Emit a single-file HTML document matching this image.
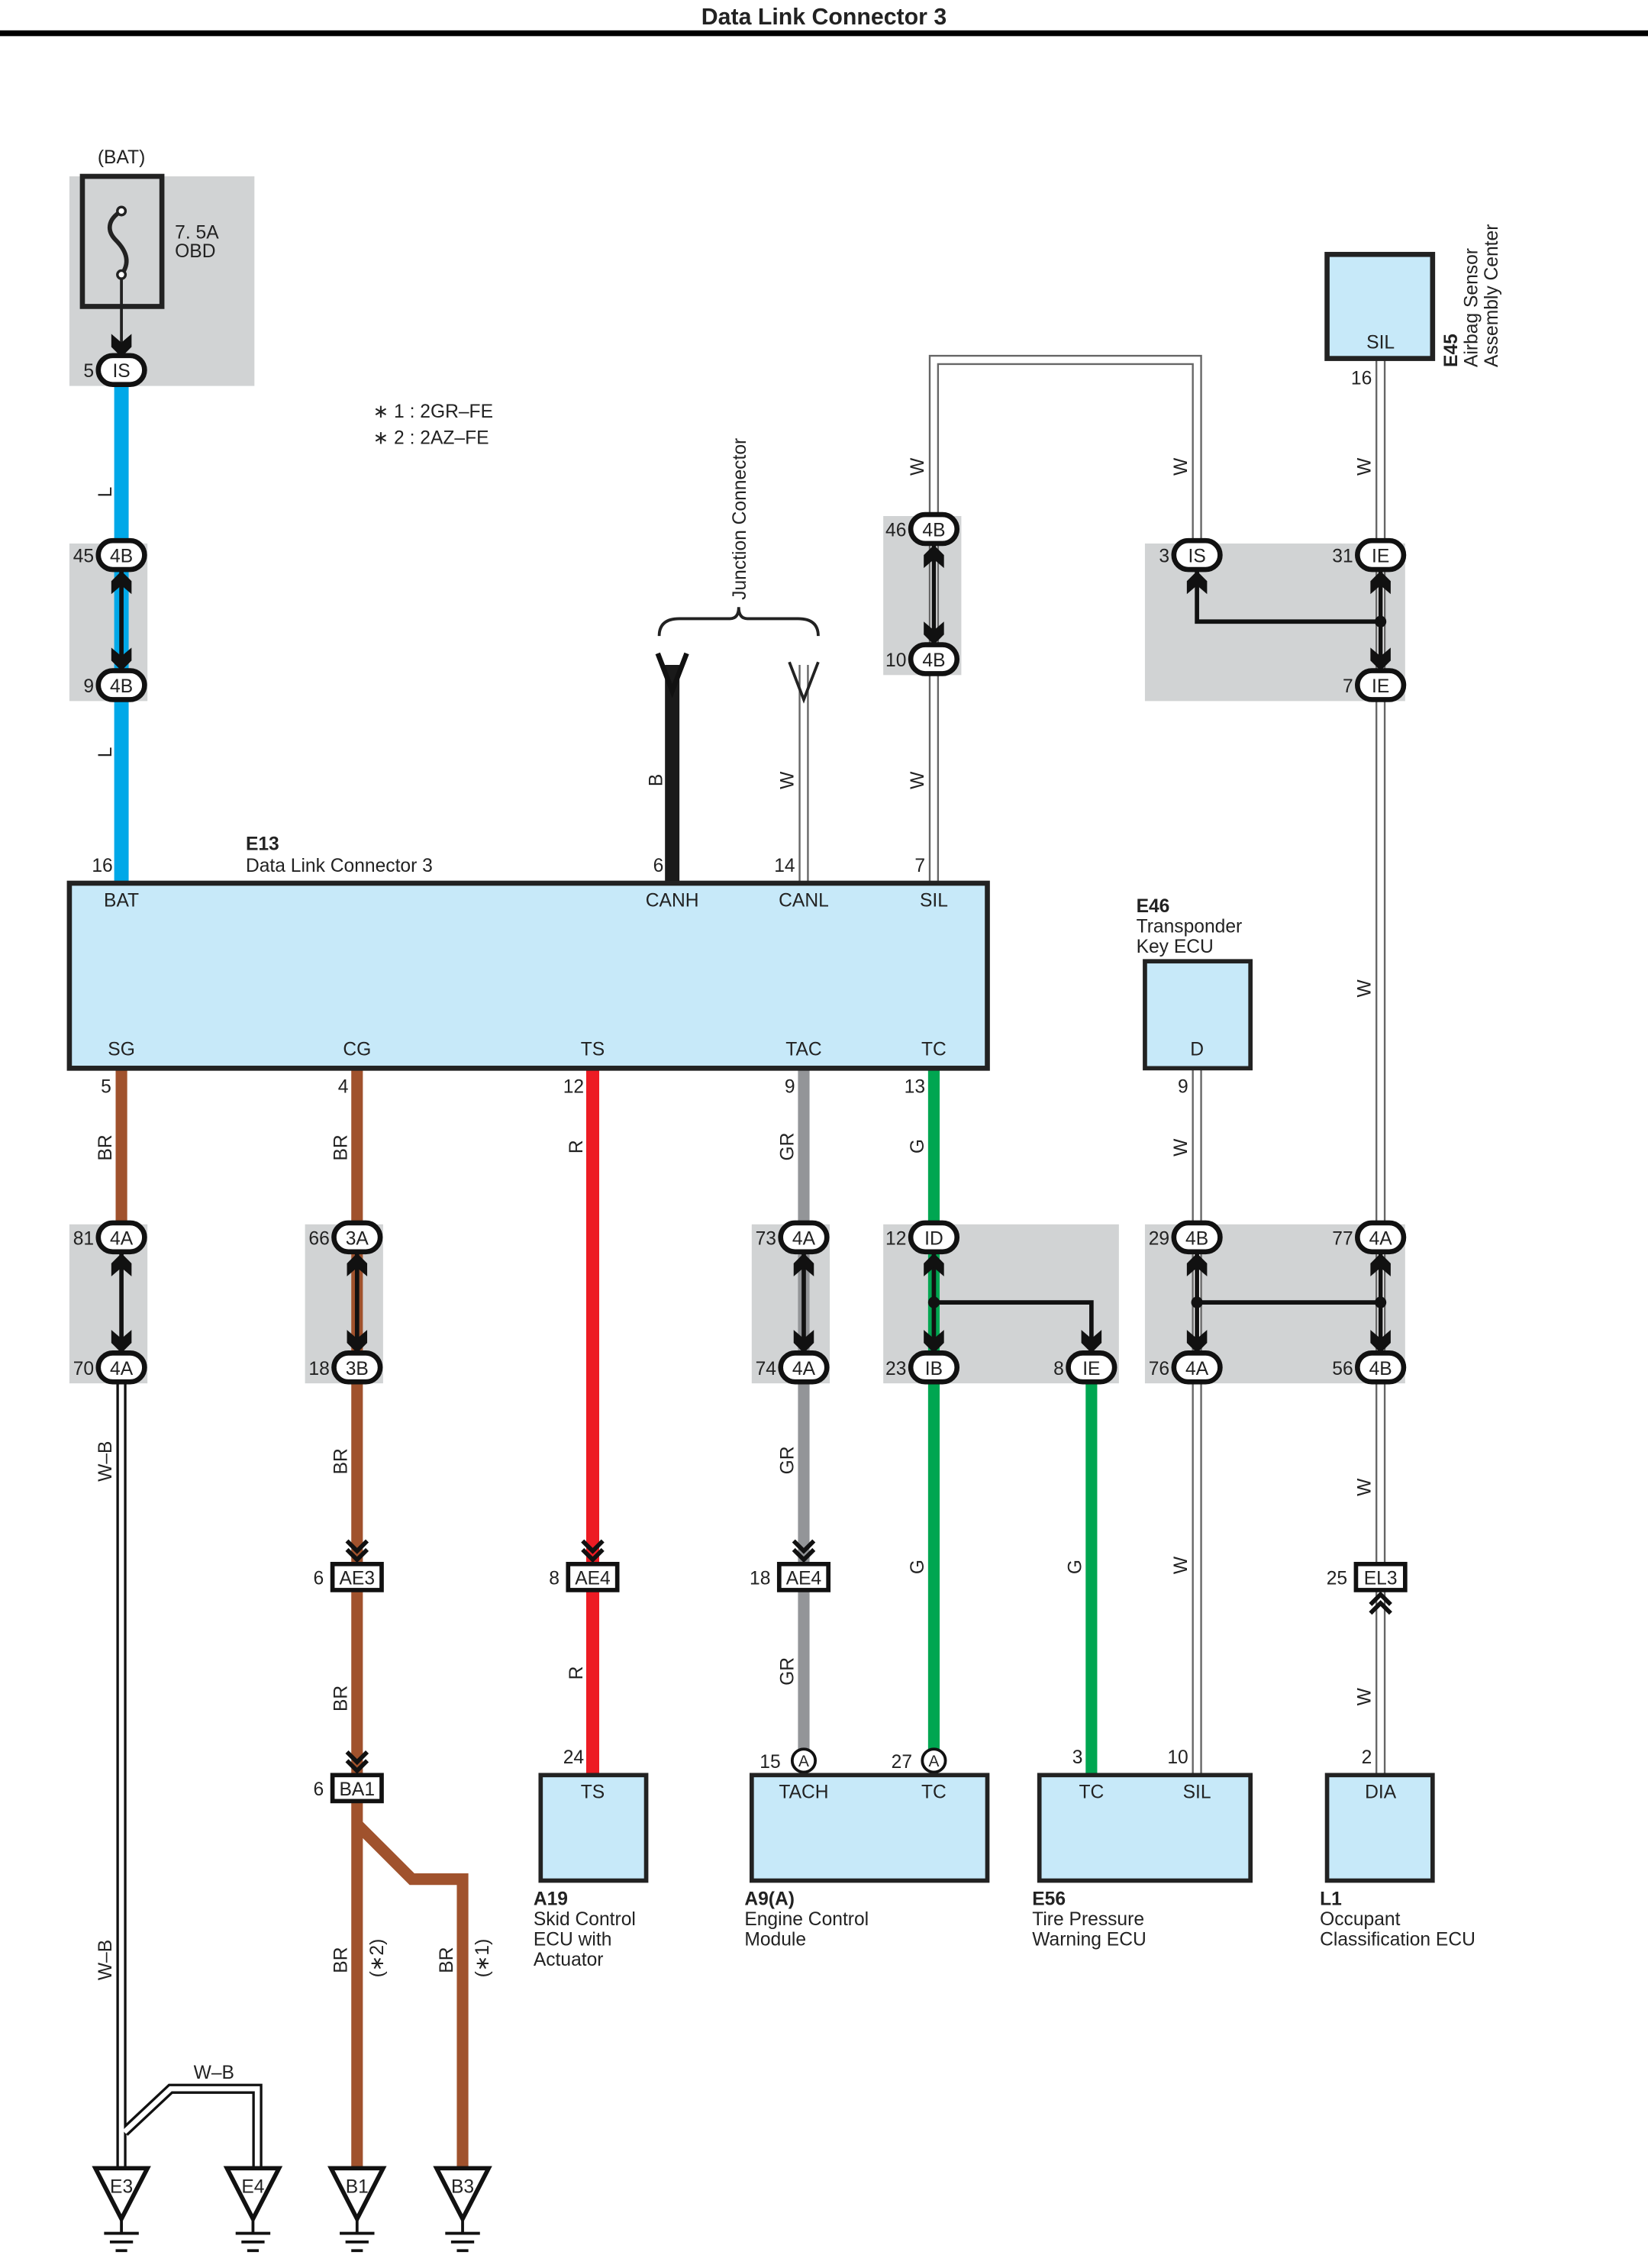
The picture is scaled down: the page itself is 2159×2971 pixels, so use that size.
<!DOCTYPE html>
<html><head><meta charset="utf-8"><style>
html,body{margin:0;padding:0;background:#fff;}
svg{display:block;}
text{font-family:"Liberation Sans",sans-serif;font-size:13px;fill:#222;}
.b{font-weight:bold;}
.m{text-anchor:middle;}
.e{text-anchor:end;}
</style></head><body>
<svg width="2159" height="2971" viewBox="0 0 1140 1569" preserveAspectRatio="none" xmlns="http://www.w3.org/2000/svg">
<defs>
<g id="ad"><path d="M-7,-11 L0,-5 L7,-11 L7,-2 L0,5 L-7,-2Z" fill="#111"/></g>
<g id="au"><path d="M-7,11 L0,5 L7,11 L7,2 L0,-5 L-7,2Z" fill="#111"/></g>
<g id="cd"><path d="M-7,-12 L0,-5 L7,-12 M-7,-6 L0,1 L7,-6" fill="none" stroke="#111" stroke-width="3"/></g>
<g id="cu"><path d="M-7,12 L0,5 L7,12 M-7,6 L0,-1 L7,6" fill="none" stroke="#111" stroke-width="3"/></g>
</defs>
<text x="570" y="17" class="b m" style="font-size:16px">Data Link Connector 3</text>
<rect x="0" y="21" width="1140" height="4" fill="#000"/>

<g fill="#d1d3d4">
<rect x="48" y="122" width="128" height="145"/>
<rect x="48" y="376" width="54" height="109"/>
<rect x="611" y="357" width="54" height="110"/>
<rect x="792" y="376" width="180" height="109"/>
<rect x="48" y="847" width="54" height="110"/>
<rect x="211" y="847" width="54" height="110"/>
<rect x="520" y="847" width="54" height="110"/>
<rect x="611" y="847" width="163" height="110"/>
<rect x="792" y="847" width="180" height="110"/>
</g>

<text x="84" y="113" class="m">(BAT)</text>
<rect x="57" y="122" width="55" height="90" fill="none" stroke="#222" stroke-width="3.5"/>
<path d="M84,146 C74,152 74,160 80,166 C88,174 90,182 84,190" fill="none" stroke="#222" stroke-width="3"/>
<circle cx="84" cy="146" r="2.8" fill="#fff" stroke="#222" stroke-width="1.8"/>
<circle cx="84" cy="190" r="2.8" fill="#fff" stroke="#222" stroke-width="1.8"/>
<line x1="84" y1="193" x2="84" y2="240" stroke="#222" stroke-width="2"/>
<use href="#ad" x="84" y="242"/>
<text x="121" y="165">7. 5A</text>
<text x="121" y="178">OBD</text>

<text x="258" y="289">∗ 1 : 2GR–FE</text>
<text x="258" y="307">∗ 2 : 2AZ–FE</text>

<g fill="none" stroke="#666" stroke-width="7">
<path d="M646,611 V249 H828 V376"/>
<path d="M955,248 V1228"/>
<path d="M828,739 V1228"/>
<path d="M556,460 V611"/>
</g>
<g fill="none" stroke="#fff" stroke-width="4.5">
<path d="M646,611 V249 H828 V376"/>
<path d="M955,248 V1228"/>
<path d="M828,739 V1228"/>
<path d="M556,460 V611"/>
</g>
<g fill="none" stroke="#111" stroke-width="7">
<path d="M84,956 V1500"/>
<path d="M86,1475 L118,1445 H178 V1500"/>
</g>
<g fill="none" stroke="#fff" stroke-width="3.5">
<path d="M84,956 V1500"/>
<path d="M86,1475 L118,1445 H178 V1500"/>
</g>

<line x1="84" y1="266" x2="84" y2="611" stroke="#00a8e8" stroke-width="10"/>
<line x1="465" y1="460" x2="465" y2="611" stroke="#1a1a1a" stroke-width="10"/>
<line x1="84" y1="739" x2="84" y2="848" stroke="#a0522d" stroke-width="8"/>
<path d="M247,739 V1500 M247,1262 L285,1300 H320 V1500" fill="none" stroke="#a0522d" stroke-width="8"/>
<line x1="410" y1="739" x2="410" y2="1228" stroke="#ed1c24" stroke-width="9"/>
<line x1="556" y1="739" x2="556" y2="1212" stroke="#939598" stroke-width="8"/>
<line x1="646" y1="739" x2="646" y2="1212" stroke="#00a651" stroke-width="8"/>
<line x1="755" y1="956" x2="755" y2="1228" stroke="#00a651" stroke-width="8"/>

<path d="M456,440 Q456,428 470,428 L505,428 Q511,428 511,420 Q511,428 517,428 L552,428 Q566,428 566,440" fill="none" stroke="#222" stroke-width="2"/>
<text transform="translate(516,415) rotate(-90)">Junction Connector</text>
<path d="M455,452 L465,478 L475,452" fill="none" stroke="#111" stroke-width="3.5"/>
<path d="M546,458 L556,484 L566,458" fill="none" stroke="#222" stroke-width="2"/>

<g stroke="#111" stroke-width="3" fill="none">
<line x1="84" y1="393" x2="84" y2="466"/>
<line x1="646" y1="375" x2="646" y2="447"/>
<path d="M828,393 V430 H955"/>
<line x1="955" y1="393" x2="955" y2="466"/>
<line x1="84" y1="865" x2="84" y2="938"/>
<line x1="247" y1="865" x2="247" y2="938"/>
<line x1="556" y1="865" x2="556" y2="938"/>
<path d="M646,865 V938 M646,901 H755 V938"/>
<path d="M828,865 V938 M955,865 V938 M828,901 H955"/>
</g>
<g fill="#111"><circle cx="955" cy="430" r="4"/><circle cx="646" cy="901" r="4"/><circle cx="828" cy="901" r="4"/><circle cx="955" cy="901" r="4"/></g>
<g>
<use href="#au" x="84" y="400"/><use href="#ad" x="84" y="459"/>
<use href="#au" x="646" y="382"/><use href="#ad" x="646" y="441"/>
<use href="#au" x="828" y="400"/><use href="#au" x="955" y="400"/><use href="#ad" x="955" y="459"/>
<use href="#au" x="84" y="872"/><use href="#ad" x="84" y="931"/>
<use href="#au" x="247" y="872"/><use href="#ad" x="247" y="931"/>
<use href="#au" x="556" y="872"/><use href="#ad" x="556" y="931"/>
<use href="#au" x="646" y="872"/><use href="#ad" x="646" y="931"/><use href="#ad" x="755" y="931"/>
<use href="#au" x="828" y="872"/><use href="#ad" x="828" y="931"/><use href="#au" x="955" y="872"/><use href="#ad" x="955" y="931"/>
</g>
<use href="#cd" x="247" y="1078"/><use href="#cd" x="410" y="1078"/><use href="#cd" x="556" y="1078"/><use href="#cd" x="247" y="1224"/>
<use href="#cu" x="955" y="1104"/>

<g fill="#fff" stroke="#111" stroke-width="3.5">
<rect x="68" y="246" width="32" height="20" rx="10"/>
<rect x="68" y="374" width="32" height="20" rx="10"/>
<rect x="68" y="464" width="32" height="20" rx="10"/>
<rect x="630" y="356" width="32" height="20" rx="10"/>
<rect x="630" y="446" width="32" height="20" rx="10"/>
<rect x="812" y="374" width="32" height="20" rx="10"/>
<rect x="939" y="374" width="32" height="20" rx="10"/>
<rect x="939" y="464" width="32" height="20" rx="10"/>
<rect x="68" y="846" width="32" height="20" rx="10"/>
<rect x="68" y="936" width="32" height="20" rx="10"/>
<rect x="231" y="846" width="32" height="20" rx="10"/>
<rect x="231" y="936" width="32" height="20" rx="10"/>
<rect x="540" y="846" width="32" height="20" rx="10"/>
<rect x="540" y="936" width="32" height="20" rx="10"/>
<rect x="630" y="846" width="32" height="20" rx="10"/>
<rect x="630" y="936" width="32" height="20" rx="10"/>
<rect x="739" y="936" width="32" height="20" rx="10"/>
<rect x="812" y="846" width="32" height="20" rx="10"/>
<rect x="939" y="846" width="32" height="20" rx="10"/>
<rect x="812" y="936" width="32" height="20" rx="10"/>
<rect x="939" y="936" width="32" height="20" rx="10"/>
</g>
<g>
<text x="84" y="261" class="m">IS</text>
<text x="84" y="389" class="m">4B</text><text x="84" y="479" class="m">4B</text>
<text x="646" y="371" class="m">4B</text><text x="646" y="461" class="m">4B</text>
<text x="828" y="389" class="m">IS</text><text x="955" y="389" class="m">IE</text><text x="955" y="479" class="m">IE</text>
<text x="84" y="861" class="m">4A</text><text x="84" y="951" class="m">4A</text>
<text x="247" y="861" class="m">3A</text><text x="247" y="951" class="m">3B</text>
<text x="556" y="861" class="m">4A</text><text x="556" y="951" class="m">4A</text>
<text x="646" y="861" class="m">ID</text><text x="646" y="951" class="m">IB</text><text x="755" y="951" class="m">IE</text>
<text x="828" y="861" class="m">4B</text><text x="955" y="861" class="m">4A</text>
<text x="828" y="951" class="m">4A</text><text x="955" y="951" class="m">4B</text>
</g>
<g>
<text x="65" y="261" class="e">5</text>
<text x="65" y="389" class="e">45</text><text x="65" y="479" class="e">9</text>
<text x="627" y="371" class="e">46</text><text x="627" y="461" class="e">10</text>
<text x="809" y="389" class="e">3</text><text x="936" y="389" class="e">31</text><text x="936" y="479" class="e">7</text>
<text x="65" y="861" class="e">81</text><text x="65" y="951" class="e">70</text>
<text x="228" y="861" class="e">66</text><text x="228" y="951" class="e">18</text>
<text x="537" y="861" class="e">73</text><text x="537" y="951" class="e">74</text>
<text x="627" y="861" class="e">12</text><text x="627" y="951" class="e">23</text><text x="736" y="951" class="e">8</text>
<text x="809" y="861" class="e">29</text><text x="936" y="861" class="e">77</text>
<text x="809" y="951" class="e">76</text><text x="936" y="951" class="e">56</text>
</g>

<g fill="#fff" stroke="#111" stroke-width="3">
<rect x="230" y="1082" width="34" height="18"/>
<rect x="393" y="1082" width="34" height="18"/>
<rect x="539" y="1082" width="34" height="18"/>
<rect x="230" y="1228" width="34" height="18"/>
<rect x="938" y="1082" width="34" height="18"/>
</g>
<text x="247" y="1096" class="m">AE3</text><text x="224" y="1096" class="e">6</text>
<text x="410" y="1096" class="m">AE4</text><text x="387" y="1096" class="e">8</text>
<text x="556" y="1096" class="m">AE4</text><text x="533" y="1096" class="e">18</text>
<text x="247" y="1242" class="m">BA1</text><text x="224" y="1242" class="e">6</text>
<text x="955" y="1096" class="m">EL3</text><text x="932" y="1096" class="e">25</text>
<circle cx="556" cy="1218" r="8" fill="#fff" stroke="#111" stroke-width="2"/><text x="556" y="1222" class="m" style="font-size:11px">A</text>
<circle cx="646" cy="1218" r="8" fill="#fff" stroke="#111" stroke-width="2"/><text x="646" y="1222" class="m" style="font-size:11px">A</text>
<text x="540" y="1223" class="e">15</text><text x="631" y="1223" class="e">27</text>

<rect x="48" y="611" width="635" height="128" fill="#c7e9f9" stroke="#222" stroke-width="3.5"/>
<text x="170" y="588" class="b">E13</text>
<text x="170" y="603">Data Link Connector 3</text>
<text x="78" y="603" class="e">16</text><text x="459" y="603" class="e">6</text><text x="550" y="603" class="e">14</text><text x="640" y="603" class="e">7</text>
<text x="84" y="627" class="m">BAT</text><text x="465" y="627" class="m">CANH</text><text x="556" y="627" class="m">CANL</text><text x="646" y="627" class="m">SIL</text>
<text x="84" y="730" class="m">SG</text><text x="247" y="730" class="m">CG</text><text x="410" y="730" class="m">TS</text><text x="556" y="730" class="m">TAC</text><text x="646" y="730" class="m">TC</text>
<text x="77" y="756" class="e">5</text><text x="241" y="756" class="e">4</text><text x="404" y="756" class="e">12</text><text x="550" y="756" class="e">9</text><text x="640" y="756" class="e">13</text>

<rect x="918" y="176" width="73" height="72" fill="#c7e9f9" stroke="#222" stroke-width="3.5"/>
<text x="955" y="241" class="m">SIL</text><text x="949" y="266" class="e">16</text>
<text transform="translate(1008,254) rotate(-90)" class="b">E45</text>
<text transform="translate(1022,254) rotate(-90)">Airbag Sensor</text>
<text transform="translate(1036,254) rotate(-90)">Assembly Center</text>

<rect x="792" y="665" width="73" height="74" fill="#c7e9f9" stroke="#222" stroke-width="3"/>
<text x="828" y="730" class="m">D</text>
<text x="786" y="631" class="b">E46</text><text x="786" y="645">Transponder</text><text x="786" y="659">Key ECU</text>
<text x="822" y="756" class="e">9</text>

<g fill="#c7e9f9" stroke="#222" stroke-width="3">
<rect x="374" y="1228" width="73" height="73"/>
<rect x="520" y="1228" width="163" height="73"/>
<rect x="719" y="1228" width="146" height="73"/>
<rect x="918" y="1228" width="73" height="73"/>
</g>
<text x="410" y="1244" class="m">TS</text>
<text x="556" y="1244" class="m">TACH</text><text x="646" y="1244" class="m">TC</text>
<text x="755" y="1244" class="m">TC</text><text x="828" y="1244" class="m">SIL</text>
<text x="955" y="1244" class="m">DIA</text>
<text x="404" y="1220" class="e">24</text><text x="749" y="1220" class="e">3</text><text x="822" y="1220" class="e">10</text><text x="949" y="1220" class="e">2</text>
<text x="369" y="1318" class="b">A19</text><text x="369" y="1332">Skid Control</text><text x="369" y="1346">ECU with</text><text x="369" y="1360">Actuator</text>
<text x="515" y="1318" class="b">A9(A)</text><text x="515" y="1332">Engine Control</text><text x="515" y="1346">Module</text>
<text x="714" y="1318" class="b">E56</text><text x="714" y="1332">Tire Pressure</text><text x="714" y="1346">Warning ECU</text>
<text x="913" y="1318" class="b">L1</text><text x="913" y="1332">Occupant</text><text x="913" y="1346">Classification ECU</text>

<g fill="#fff" stroke="#111" stroke-width="3">
<path d="M66,1500 H102 L84,1535Z"/><path d="M157,1500 H193 L175,1535Z"/>
<path d="M229,1500 H265 L247,1535Z"/><path d="M302,1500 H338 L320,1535Z"/>
</g>
<g stroke="#111" stroke-width="2">
<path d="M84,1535 V1545 M72,1545 H96 M76,1551 H92 M80,1557 H88"/>
<path d="M175,1535 V1545 M163,1545 H187 M167,1551 H183 M171,1557 H179"/>
<path d="M247,1535 V1545 M235,1545 H259 M239,1551 H255 M243,1557 H251"/>
<path d="M320,1535 V1545 M308,1545 H332 M312,1551 H328 M316,1557 H324"/>
</g>
<g style="font-size:12px">
<text x="84" y="1517" class="m">E3</text><text x="175" y="1517" class="m">E4</text>
<text x="247" y="1517" class="m">B1</text><text x="320" y="1517" class="m">B3</text>
</g>
<text x="148" y="1438" class="m">W–B</text>

<g>
<text transform="translate(77,344) rotate(-90)">L</text>
<text transform="translate(77,524) rotate(-90)">L</text>
<text transform="translate(458,544) rotate(-90)">B</text>
<text transform="translate(549,546) rotate(-90)">W</text>
<text transform="translate(639,546) rotate(-90)">W</text>
<text transform="translate(639,329) rotate(-90)">W</text>
<text transform="translate(821,329) rotate(-90)">W</text>
<text transform="translate(948,329) rotate(-90)">W</text>
<text transform="translate(948,690) rotate(-90)">W</text>
<text transform="translate(77,803) rotate(-90)">BR</text>
<text transform="translate(240,803) rotate(-90)">BR</text>
<text transform="translate(403,798) rotate(-90)">R</text>
<text transform="translate(549,803) rotate(-90)">GR</text>
<text transform="translate(639,798) rotate(-90)">G</text>
<text transform="translate(821,800) rotate(-90)">W</text>
<text transform="translate(77,1025) rotate(-90)">W–B</text>
<text transform="translate(240,1020) rotate(-90)">BR</text>
<text transform="translate(549,1020) rotate(-90)">GR</text>
<text transform="translate(639,1089) rotate(-90)">G</text>
<text transform="translate(748,1089) rotate(-90)">G</text>
<text transform="translate(821,1089) rotate(-90)">W</text>
<text transform="translate(948,1035) rotate(-90)">W</text>
<text transform="translate(240,1184) rotate(-90)">BR</text>
<text transform="translate(403,1162) rotate(-90)">R</text>
<text transform="translate(549,1166) rotate(-90)">GR</text>
<text transform="translate(948,1180) rotate(-90)">W</text>
<text transform="translate(77,1370) rotate(-90)">W–B</text>
<text transform="translate(240,1365) rotate(-90)">BR</text>
<text transform="translate(265,1368) rotate(-90)">(∗2)</text>
<text transform="translate(313,1365) rotate(-90)">BR</text>
<text transform="translate(338,1368) rotate(-90)">(∗1)</text>
</g>
</svg>
</body></html>
